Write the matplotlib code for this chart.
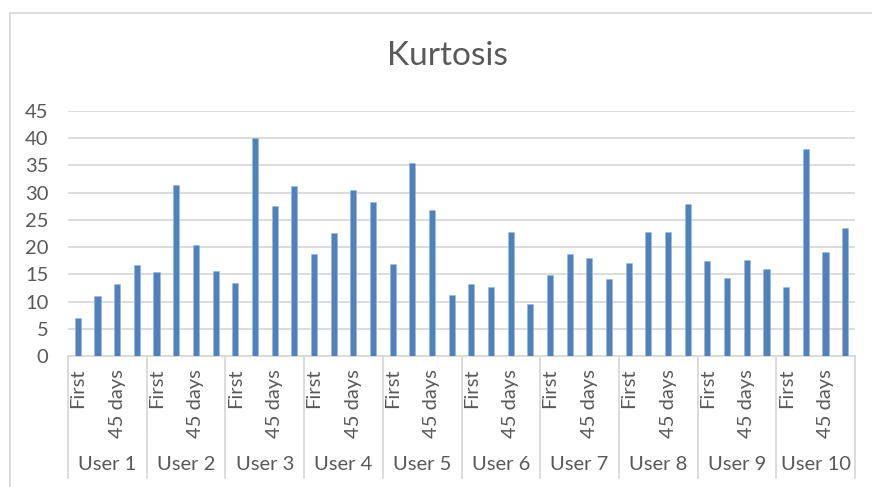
import numpy as np
import matplotlib.pyplot as plt
import matplotlib.transforms as mtransforms

plt.rcParams['font.family'] = ['Lato', 'DejaVu Sans']

users = ['User 1', 'User 2', 'User 3', 'User 4', 'User 5',
         'User 6', 'User 7', 'User 8', 'User 9', 'User 10']
# only every other session label is shown on the axis
sessions = ['First', '', '45 days', '']
kurtosis = [
    [7.0, 11.0, 13.2, 16.7],
    [15.4, 31.4, 20.3, 15.6],
    [13.5, 40.0, 27.5, 31.3],
    [18.8, 22.6, 30.5, 28.3],
    [16.9, 35.5, 26.9, 11.2],
    [13.2, 12.6, 22.7, 9.5],
    [14.8, 18.7, 18.0, 14.1],
    [17.0, 22.7, 22.8, 27.9],
    [17.5, 14.3, 17.6, 16.0],
    [12.6, 38.0, 19.1, 23.6],
]

W, H = 872, 487
fig = plt.figure(figsize=(W / 100, H / 100), dpi=100)
ax = fig.add_axes([68 / W, (H - 356) / H, (855 - 68) / W, 245 / H])

txt = '#595959'
grid = '#d9d9d9'
fs = 14.5
vals = np.array(kurtosis).ravel()
n = len(sessions)
x = np.arange(len(vals))
ax.bar(x, vals, width=0.31, color='#4f81bd', edgecolor='#9bb7dd', linewidth=0.4, zorder=3)

ax.set_xlim(-0.5, len(vals) - 0.5)
ax.set_ylim(0, 45)
ax.set_yticks(np.arange(0, 46, 5))
ax.yaxis.grid(True, color=grid, linewidth=1.3, zorder=0)
ax.tick_params(axis='y', length=0, pad=14, labelsize=fs, labelcolor=txt)
ax.set_xticks([])
for s in ['top', 'right', 'left']:
    ax.spines[s].set_visible(False)
ax.spines['bottom'].set_color(grid)
ax.spines['bottom'].set_linewidth(1.3)

tr = mtransforms.blended_transform_factory(ax.transData, ax.transAxes)
px = 1 / 245  # one pixel in axes units (vertical)
for g in range(len(users) + 1):
    xb = g * n - 0.5
    ax.plot([xb, xb], [0, -79 * px], transform=tr, color=grid, lw=1.3, clip_on=False)
    ax.plot([xb, xb], [-81 * px, -122 * px], transform=tr, color=grid, lw=1.3, clip_on=False)
for g, u in enumerate(users):
    for k, lab in enumerate(sessions):
        if lab:
            ax.text(g * n + k, -13 * px, lab, transform=tr, rotation=90,
                    ha='center', va='top', fontsize=fs, color=txt)
    ax.text(g * n + (n - 1) / 2, -109 * px, u, transform=tr,
            ha='center', va='center', fontsize=fs, color=txt)

fig.text(447 / W, 1 - 56 / H, 'Kurtosis', ha='center', va='center', fontsize=24, color=txt)

# chart border (cropped at right and bottom)
fig.add_artist(plt.Line2D([9.5 / W, 9.5 / W], [0, 1 - 12.7 / H], color=grid, lw=1.3))
fig.add_artist(plt.Line2D([9.5 / W, 1], [1 - 12.7 / H, 1 - 12.7 / H], color=grid, lw=1.3))

fig.savefig('out.png', dpi=100)
